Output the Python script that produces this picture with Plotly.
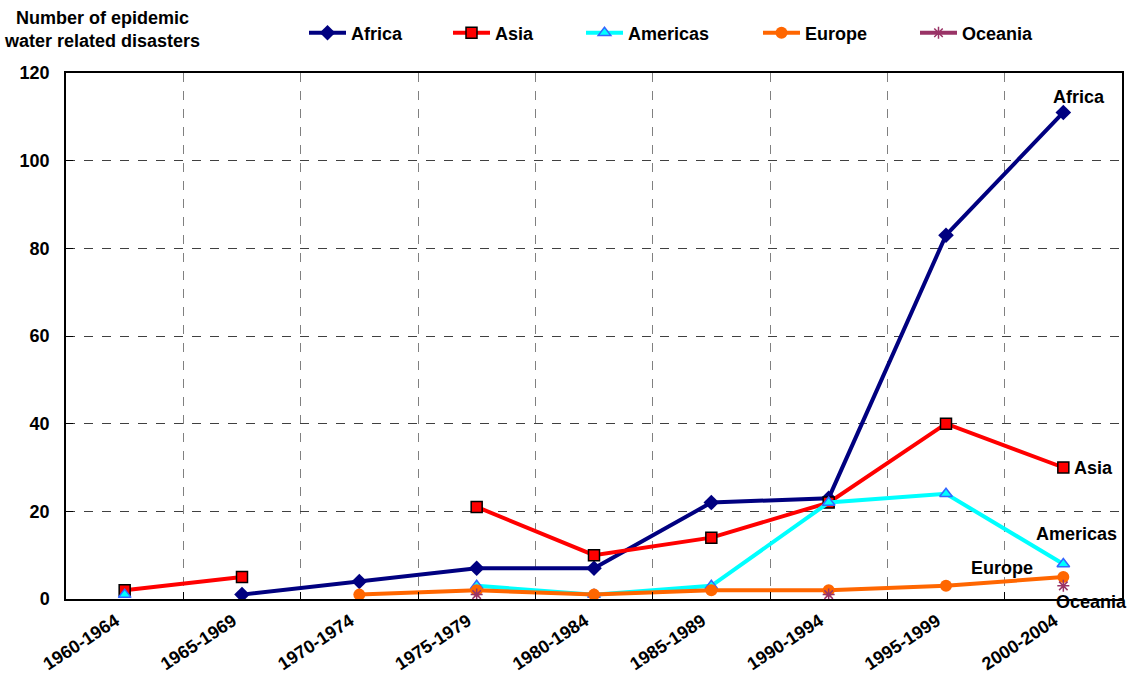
import plotly.graph_objects as go

periods = ["1960-1964", "1965-1969", "1970-1974", "1975-1979", "1980-1984",
           "1985-1989", "1990-1994", "1995-1999", "2000-2004"]
africa = [None, 1, 4, 7, 7, 22, 23, 83, 111]
asia = [2, 5, None, 21, 10, 14, 22, 40, 30]
americas = [1, None, None, 3, 1, 3, 22, 24, 8]
europe = [None, None, 1, 2, 1, 2, 2, 3, 5]
oceania = [None, None, None, 1, None, None, 1, None, 3]

xi = list(range(len(periods)))
FONT = "Liberation Sans, Arial, sans-serif"
W, H = 1128, 685

fig = go.Figure()
series = [
    ("Africa", africa, "#000080", dict(symbol="diamond", size=12, color="#000080")),
    ("Asia", asia, "#FF0000", dict(symbol="square", size=11, color="#FF0000",
                                   line=dict(color="black", width=1.5))),
    ("Americas", americas, "#00FFFF", dict(symbol="triangle-up", size=11, color="#00FFFF",
                                           line=dict(color="#3366FF", width=1.5))),
    ("Europe", europe, "#FF6600", dict(symbol="circle", size=12, color="#FF6600")),
    ("Oceania", oceania, "#993366", dict(symbol="asterisk-open", size=10,
                                         line=dict(color="#993366", width=1.5))),
]
legend_x = [311, 455, 588, 765, 922]
for i, (name, vals, col, mk) in enumerate(series):
    lg = "legend" if i == 0 else f"legend{i+1}"
    fig.add_trace(go.Scatter(x=xi, y=vals, name=name, mode="lines+markers",
                             line=dict(color=col, width=4), marker=mk,
                             connectgaps=False, legend=lg))
    fig.update_layout({lg: dict(xref="container", yref="container",
                                x=(legend_x[i] - 7) / W, xanchor="left",
                                y=1 - 33 / H, yanchor="middle",
                                orientation="h", bgcolor="rgba(0,0,0,0)",
                                itemwidth=37,
                                font=dict(family=FONT, size=18, color="black",
                                          weight="bold"))})

# end labels (x pixel offset, y pixel offset relative to last point)
end_labels = [("Africa", 8, 111, 16, 15),
              ("Asia", 8, 30, 30, 0),
              ("Americas", 8, 8, 13, 30),
              ("Europe", 8, 5, -61, 9),
              ("Oceania", 8, 3, 28, -16)]
for txt, xv, yv, dx, dy in end_labels:
    fig.add_annotation(x=xv, y=yv, text=txt, showarrow=False, xanchor="center",
                       yanchor="middle", xshift=dx, yshift=dy,
                       font=dict(family=FONT, size=18, color="black", weight="bold"))

fig.add_annotation(x=0, y=1, xref="paper", yref="paper", xanchor="center", yanchor="bottom",
                   xshift=36, yshift=20, align="center", showarrow=False,
                   text="Number of epidemic<br>water related disasters",
                   font=dict(family=FONT, size=18, color="black", weight="bold"))

fig.update_layout(
    width=W, height=H,
    margin=dict(l=66, r=6, t=73, b=86, autoexpand=False),
    plot_bgcolor="white", paper_bgcolor="white",
    font=dict(family=FONT, size=18, color="black"),
    showlegend=True,
)

fig.update_xaxes(range=[-0.5, 8.5], tickmode="array", tickvals=xi, ticktext=periods,
                 tickangle=-33, showgrid=False, zeroline=False, automargin=False,
                 showline=True, linecolor="black", linewidth=1.5, mirror=True,
                 ticks="", ticklabelstandoff=3, ticklabelshift=-9,
                 tickfont=dict(family=FONT, size=18, color="black", weight="bold"),
                 minor=dict(tickmode="array", tickvals=[i + 0.5 for i in range(8)],
                            showgrid=True, gridcolor="#808080", griddash="dash",
                            gridwidth=1, ticks="inside", ticklen=7, tickcolor="black"))
fig.update_yaxes(range=[0, 120], dtick=20, showgrid=True, gridcolor="#404040",
                 griddash="dash", gridwidth=1, zeroline=False, automargin=False,
                 showline=True, linecolor="black", linewidth=1.5, mirror=True,
                 ticks="inside", ticklen=7, tickcolor="black", ticklabelstandoff=11,
                 tickfont=dict(family=FONT, size=18, color="black", weight="bold"))

fig.write_html("out.html", config={"displayModeBar": False},
               post_script="document.body.style.margin='0';document.body.style.overflow='hidden';")
